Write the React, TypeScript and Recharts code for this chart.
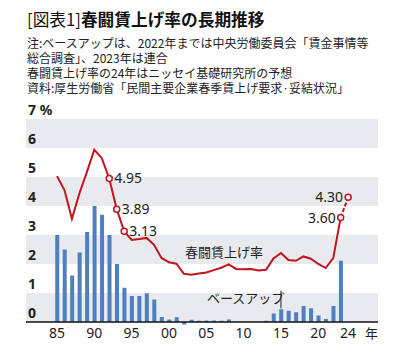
import React from 'react';
import { ComposedChart, Bar, Line, XAxis, YAxis, ReferenceArea, ReferenceLine } from 'recharts';

const years = [1985, 1986, 1987, 1988, 1989, 1990, 1991, 1992, 1993, 1994, 1995, 1996, 1997, 1998, 1999, 2000, 2001, 2002, 2003, 2004, 2005, 2006, 2007, 2008, 2009, 2010, 2011, 2012, 2013, 2014, 2015, 2016, 2017, 2018, 2019, 2020, 2021, 2022, 2023, 2024];

const baseUp = [3.0, 2.5, 1.6, 2.4, 3.1, 4.0, 3.7, 3.0, 2.0, 1.18, 0.9, 0.9, 0.99, 0.78, 0.17, 0.09, 0.16, -0.09, 0.08, 0.04, 0.05, 0.05, 0.04, 0.09, 0.0, 0.01, 0.0, 0.01, 0.04, 0.29, 0.44, 0.39, 0.34, 0.55, 0.47, 0.22, 0.1, 0.55, 2.11, null];

const shuntoRate = [5.03, 4.55, 3.56, 4.43, 5.17, 5.94, 5.65, 4.95, 3.89, 3.13, 2.83, 2.86, 2.9, 2.66, 2.21, 2.06, 2.01, 1.66, 1.63, 1.67, 1.71, 1.79, 1.87, 1.99, 1.83, 1.82, 1.83, 1.78, 1.8, 2.19, 2.38, 2.14, 2.11, 2.26, 2.18, 2.0, 1.86, 2.2, 3.6, null];

const projectedRate = [null, null, null, null, null, null, null, null, null, null, null, null, null, null, null, null, null, null, null, null, null, null, null, null, null, null, null, null, null, null, null, null, null, null, null, null, null, null, 3.6, 4.3];

const labeledYears = [1992, 1993, 1994, 2023, 2024];
const labelTexts = ['4.95', '3.89', '3.13', '3.60', '4.30'];

const xTickYears = [1985, 1990, 1995, 2000, 2005, 2010, 2015, 2020, 2024];
const xTickLabels = ['85', '90', '95', '00', '05', '10', '15', '20', '24'];
const yTicks = [0, 1, 2, 3, 4, 5, 6, 7];
const yTickLabels = ['0', '1', '2', '3', '4', '5', '6', '7 %'];
const bands = [[0, 1], [2, 3], [4, 5], [6, 7]];

const data = years.map((y, i) => ({
  year: y,
  base: baseUp[i],
  rate: shuntoRate[i],
  proj: projectedRate[i],
}));

const RED = '#c4121f';
const BLUE = '#4f7fbf';
const BAND = '#e8eaed';
const FONT = "'Noto Sans', 'Noto Sans CJK JP', sans-serif";
const JFONT = "'Noto Sans CJK JP', sans-serif";

const XTick = (props: any) => {
  const idx = xTickYears.indexOf(props.payload.value);
  return (
    <text x={props.x} y={338} textAnchor="middle" fontSize={14} fill="#222" fontFamily={FONT}>
      {idx >= 0 ? xTickLabels[idx] : ''}
    </text>
  );
};

const makeYLabel = (text: string) => (props: any) => {
  const vb = props.viewBox || {};
  return (
    <text x={28} y={(vb.y ?? 0) - 4} textAnchor="start" fontSize={14} fontWeight="bold" fill="#222" fontFamily={FONT}>
      {text}
    </text>
  );
};

const makeDot = (key: string) => (props: any) => {
  const { cx, cy, payload } = props;
  const idx = labeledYears.indexOf(payload.year);
  if (idx < 0 || cx == null || cy == null || payload[key] == null) return <g key={`d-${key}-${payload.year}`} />;
  if (key === 'rate' && payload.year === 2023) return <g key={`d-${key}-${payload.year}`} />;
  const right = payload.year < 2000;
  return (
    <g key={`d-${key}-${payload.year}`}>
      <circle cx={cx} cy={cy} r={3} fill="#fff" stroke={RED} strokeWidth={1.5} />
      <text
        x={right ? cx + 5 : cx - 5}
        y={cy + 5}
        textAnchor={right ? 'start' : 'end'}
        fontSize={14}
        fill="#222"
        fontFamily={FONT}
      >
        {labelTexts[idx]}
      </text>
    </g>
  );
};

export default function App() {
  return (
    <div style={{ position: 'absolute', left: 0, top: 0, width: 405, height: 354, background: '#fff', overflow: 'hidden' }}>
      <div style={{ position: 'absolute', left: 27, top: 8, fontFamily: JFONT, fontSize: 16.7, color: '#111', whiteSpace: 'nowrap', lineHeight: '22px' }}>
        <span style={{ fontWeight: 400 }}>[図表1]</span>
        <span style={{ fontWeight: 700 }}>春闘賃上げ率の長期推移</span>
      </div>
      <div style={{ position: 'absolute', left: 27, top: 35, fontFamily: JFONT, fontSize: 12, color: '#222', whiteSpace: 'nowrap', lineHeight: '15px' }}>
        <div>注:ベースアップは、2022年までは中央労働委員会「賃金事情等</div>
        <div>総合調査」、2023年は連合</div>
        <div>春闘賃上げ率の24年はニッセイ基礎研究所の予想</div>
        <div>資料:厚生労働省「民間主要企業春季賃上げ要求·妥結状況」</div>
      </div>
      <div style={{ position: 'absolute', left: 0, top: 0 }}>
        <ComposedChart width={405} height={354} data={data} margin={{ top: 119, right: 27, bottom: 0, left: 26 }}>
          {bands.map((b, i) => (
            <ReferenceArea key={i} y1={b[0]} y2={b[1]} x1={1980.85} x2={2028} fill={BAND} fillOpacity={1} stroke="none" ifOverflow="visible" />
          ))}
          <XAxis
            dataKey="year"
            type="number"
            domain={[1980.85, 2028]}
            ticks={xTickYears}
            allowDecimals
            axisLine={false}
            tickLine={false}
            height={23.3}
            tick={<XTick />}
            interval={0}
          />
          <YAxis type="number" domain={[-0.3, 7]} ticks={yTicks} hide allowDataOverflow />
          {yTicks.map((t, i) => (
            <ReferenceLine key={`yl-${t}`} y={t} stroke="none" label={makeYLabel(yTickLabels[i])} ifOverflow="visible" />
          ))}
          <Bar dataKey="base" fill={BLUE} barSize={4} isAnimationActive={false} />
          <ReferenceLine y={0} stroke="#111" strokeWidth={1.5} />
          <ReferenceLine
            segment={[{ x: 2015, y: 0.47 }, { x: 2015, y: 1.08 }]}
            stroke="#222"
            strokeWidth={1}
          />
          <Line dataKey="rate" stroke={RED} strokeWidth={2} dot={makeDot('rate')} activeDot={false} isAnimationActive={false} connectNulls={false} />
          <Line dataKey="proj" stroke={RED} strokeWidth={2} strokeDasharray="4 2" dot={makeDot('proj')} activeDot={false} isAnimationActive={false} connectNulls={false} />
        </ComposedChart>
      </div>
      <div style={{ position: 'absolute', left: 185, top: 243, fontFamily: JFONT, fontSize: 13, color: '#222', whiteSpace: 'nowrap', lineHeight: '17px' }}>春闘賃上げ率</div>
      <div style={{ position: 'absolute', left: 207, top: 289, fontFamily: JFONT, fontSize: 13, color: '#222', whiteSpace: 'nowrap', lineHeight: '17px' }}>ベースアップ</div>
      <div style={{ position: 'absolute', left: 365, top: 324, fontFamily: JFONT, fontSize: 13, color: '#222', whiteSpace: 'nowrap', lineHeight: '17px' }}>年</div>
    </div>
  );
}
